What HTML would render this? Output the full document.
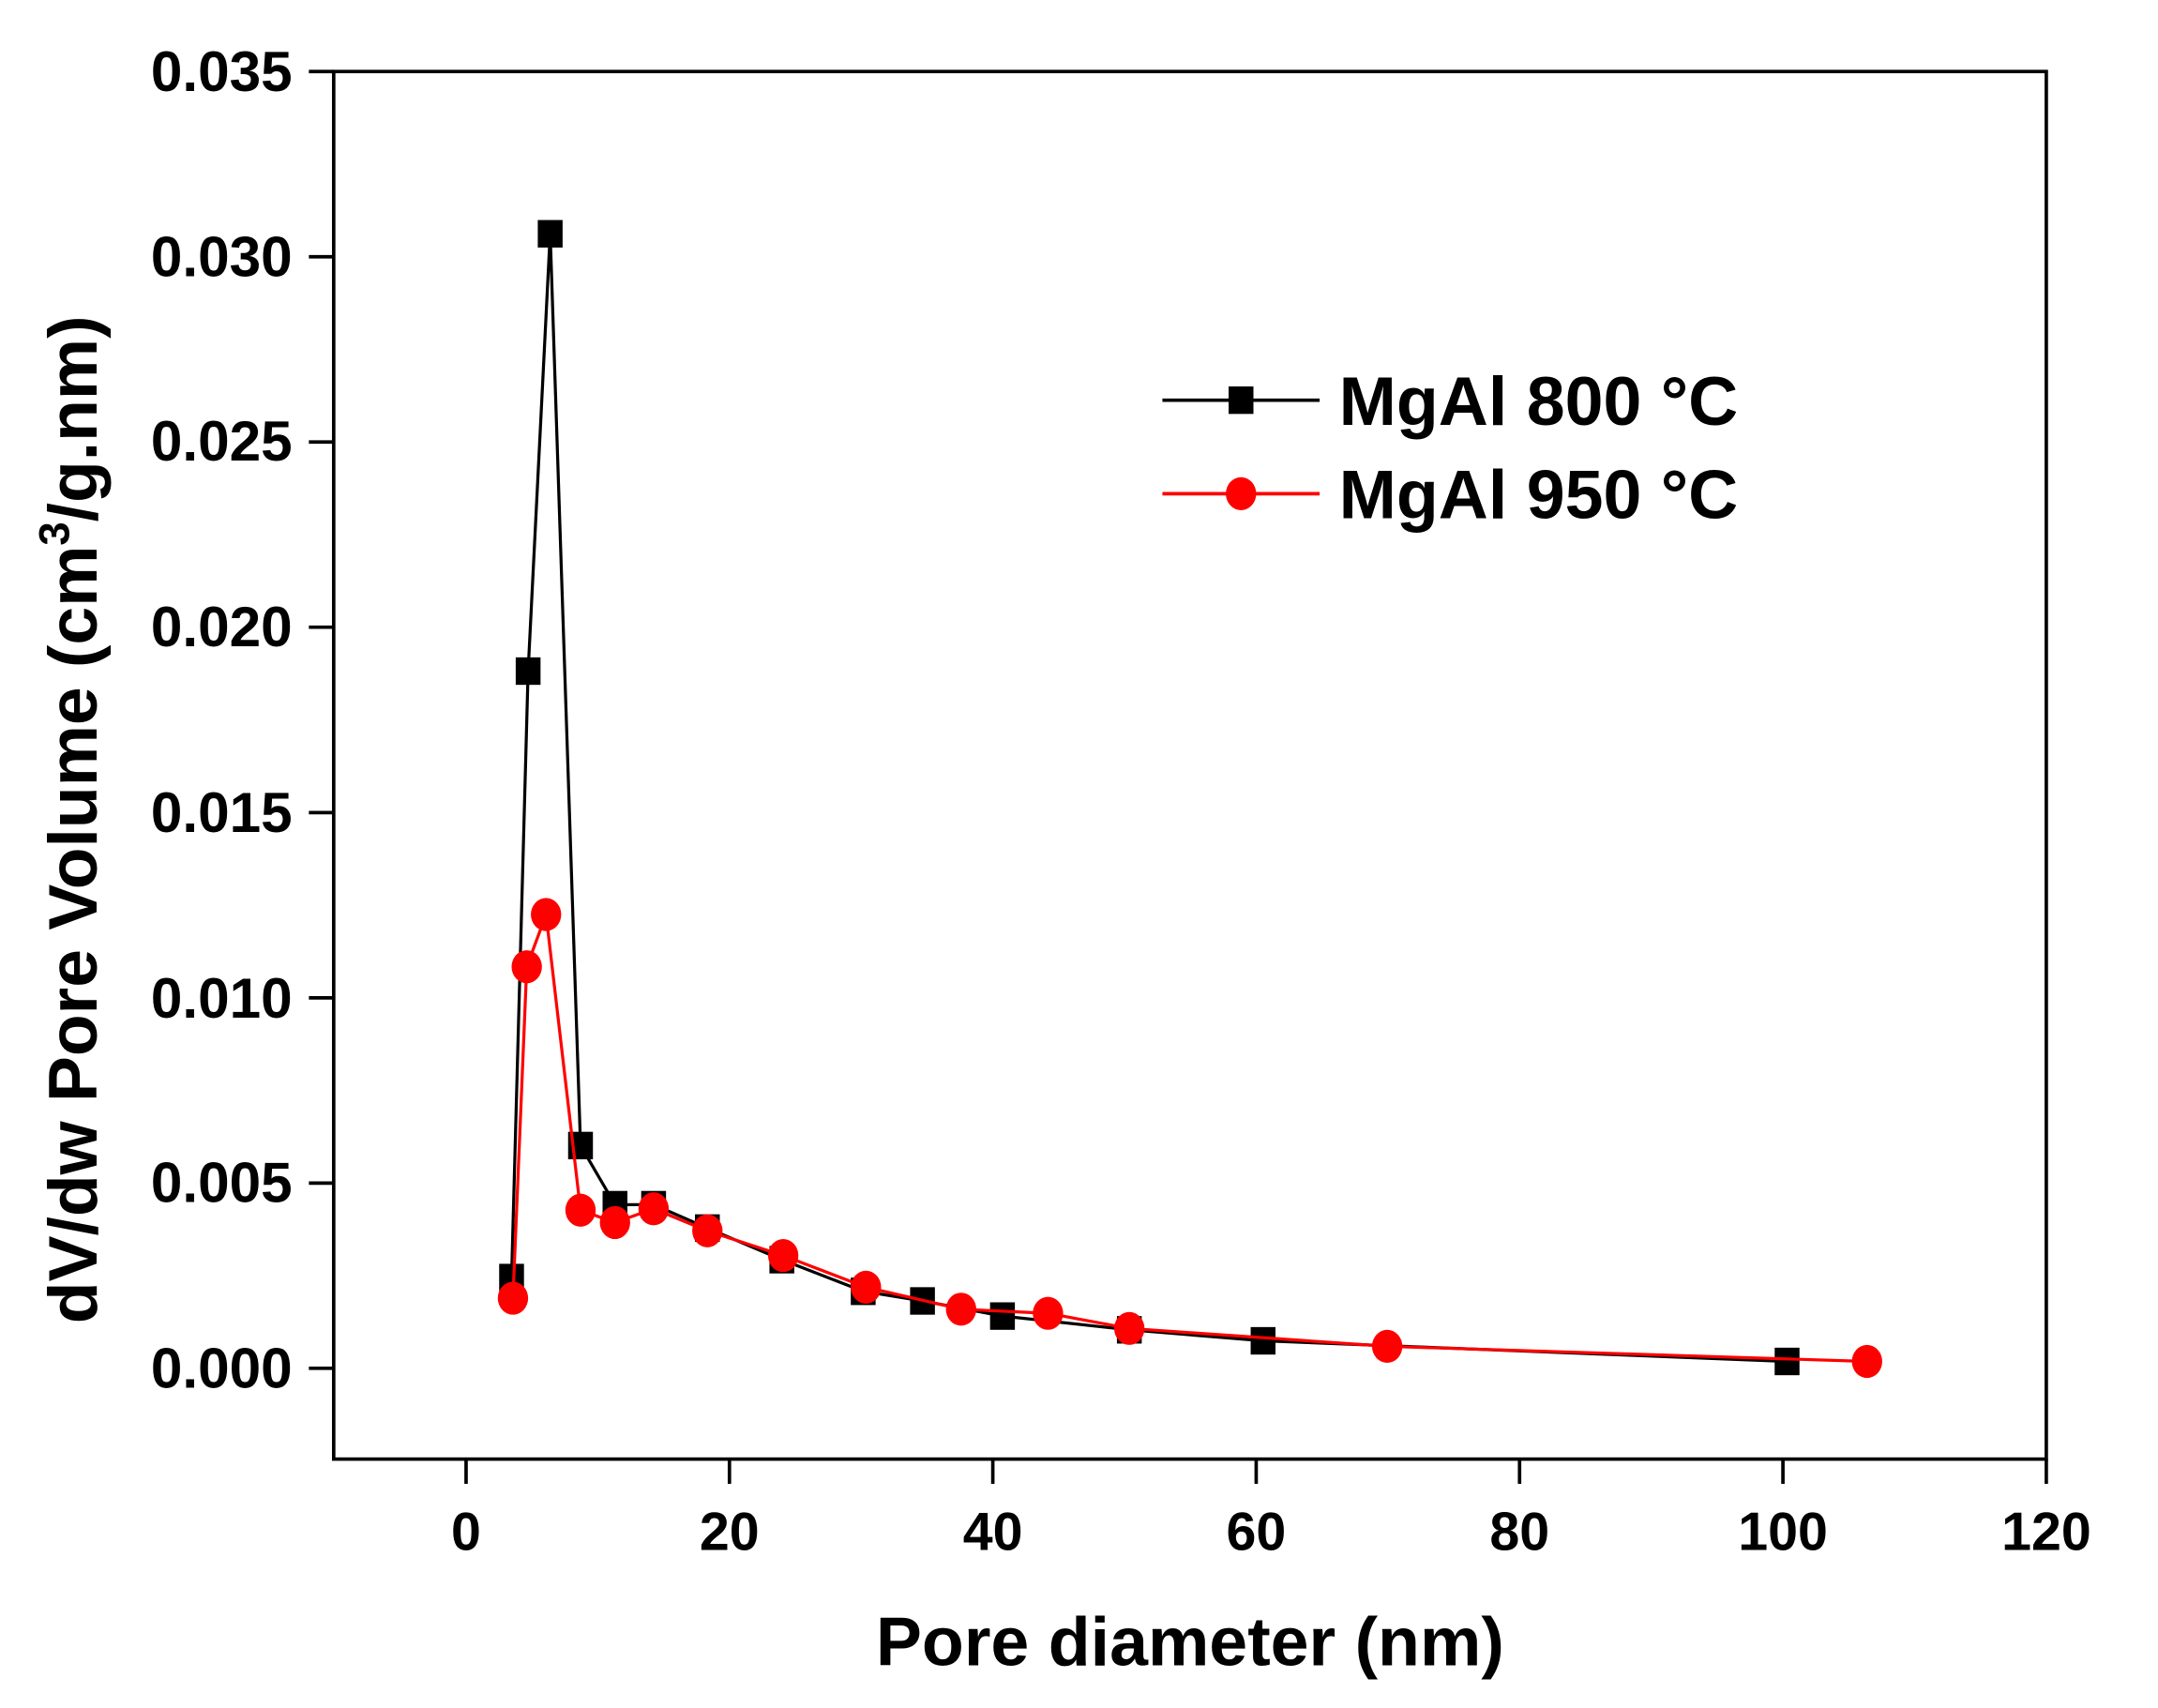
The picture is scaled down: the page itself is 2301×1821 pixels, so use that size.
<!DOCTYPE html>
<html><head><meta charset="utf-8"><style>
html,body{margin:0;padding:0;background:#fff;}
svg{display:block;}
text{font-family:"Liberation Sans",Arial,sans-serif;font-weight:bold;fill:#000;}
</style></head><body>
<svg width="2301" height="1821" viewBox="0 0 1565 1242" preserveAspectRatio="none" xmlns="http://www.w3.org/2000/svg">
<rect width="1565" height="1242" fill="#fff"/>
<rect x="242" y="52" width="1242" height="1009" fill="none" stroke="#000" stroke-width="2.5"/>
<g stroke="#000" stroke-width="2.5">
<line x1="224" y1="52" x2="242" y2="52"/>
<line x1="224" y1="186.7" x2="242" y2="186.7"/>
<line x1="224" y1="321.4" x2="242" y2="321.4"/>
<line x1="224" y1="456.1" x2="242" y2="456.1"/>
<line x1="224" y1="590.9" x2="242" y2="590.9"/>
<line x1="224" y1="725.6" x2="242" y2="725.6"/>
<line x1="224" y1="860.3" x2="242" y2="860.3"/>
<line x1="224" y1="995" x2="242" y2="995"/>
<line x1="338" y1="1061" x2="338" y2="1079"/>
<line x1="529" y1="1061" x2="529" y2="1079"/>
<line x1="720" y1="1061" x2="720" y2="1079"/>
<line x1="911" y1="1061" x2="911" y2="1079"/>
<line x1="1102" y1="1061" x2="1102" y2="1079"/>
<line x1="1293" y1="1061" x2="1293" y2="1079"/>
<line x1="1484" y1="1061" x2="1484" y2="1079"/>
</g>
<g font-size="41" text-anchor="end">
<text x="212" y="66">0.035</text>
<text x="212" y="201">0.030</text>
<text x="212" y="335">0.025</text>
<text x="212" y="470">0.020</text>
<text x="212" y="605">0.015</text>
<text x="212" y="740">0.010</text>
<text x="212" y="874">0.005</text>
<text x="212" y="1009">0.000</text>
</g>
<g font-size="39" text-anchor="middle">
<text x="338" y="1127">0</text>
<text x="529" y="1127">20</text>
<text x="720" y="1127">40</text>
<text x="911" y="1127">60</text>
<text x="1102" y="1127">80</text>
<text x="1293" y="1127">100</text>
<text x="1484" y="1127">120</text>
</g>
<text x="863" y="1211" font-size="50" text-anchor="middle">Pore diameter (nm)</text>
<text transform="translate(70,596) rotate(-90)" font-size="50" text-anchor="middle">dV/dw Pore Volume (cm<tspan font-size="31" dy="-20">3</tspan><tspan dy="20">/g.nm)</tspan></text>
<polyline fill="none" stroke="#000" stroke-width="2.2" points="371,929 383,488 399,170 421,833 446,876 474,876 513,893 567,916 626,939 669,946 727,957 819,967 916,975 1296,990"/>
<g fill="#000">
<rect x="362" y="919" width="18" height="20"/><rect x="374" y="478" width="18" height="20"/><rect x="390" y="160" width="18" height="20"/><rect x="412" y="823" width="18" height="20"/><rect x="437" y="866" width="18" height="20"/><rect x="465" y="866" width="18" height="20"/><rect x="504" y="883" width="18" height="20"/><rect x="558" y="906" width="18" height="20"/><rect x="617" y="929" width="18" height="20"/><rect x="660" y="936" width="18" height="20"/><rect x="718" y="947" width="18" height="20"/><rect x="810" y="957" width="18" height="20"/><rect x="907" y="965" width="18" height="20"/><rect x="1287" y="980" width="18" height="20"/>
</g>
<polyline fill="none" stroke="#f00" stroke-width="2.2" points="372,944 382,703 396,665 421,880 446,889 474,879 513,895 568,913 628,936 697,952 760,955 819,966 1006,979 1354,990"/>
<g fill="#f00">
<ellipse cx="372" cy="944" rx="11" ry="12"/><ellipse cx="382" cy="703" rx="11" ry="12"/><ellipse cx="396" cy="665" rx="11" ry="12"/><ellipse cx="421" cy="880" rx="11" ry="12"/><ellipse cx="446" cy="889" rx="11" ry="12"/><ellipse cx="474" cy="879" rx="11" ry="12"/><ellipse cx="513" cy="895" rx="11" ry="12"/><ellipse cx="568" cy="913" rx="11" ry="12"/><ellipse cx="628" cy="936" rx="11" ry="12"/><ellipse cx="697" cy="952" rx="11" ry="12"/><ellipse cx="760" cy="955" rx="11" ry="12"/><ellipse cx="819" cy="966" rx="11" ry="12"/><ellipse cx="1006" cy="979" rx="11" ry="12"/><ellipse cx="1354" cy="990" rx="11" ry="12"/>
</g>
<line x1="843" y1="291" x2="957" y2="291" stroke="#000" stroke-width="2.5"/>
<rect x="891" y="281" width="18" height="20" fill="#000"/>
<line x1="843" y1="359" x2="957" y2="359" stroke="#f00" stroke-width="2.5"/>
<ellipse cx="900" cy="359" rx="11" ry="12" fill="#f00"/>
<text x="971" y="309" font-size="50">MgAl 800 °C</text>
<text x="971" y="377" font-size="50">MgAl 950 °C</text>
</svg>
</body></html>
